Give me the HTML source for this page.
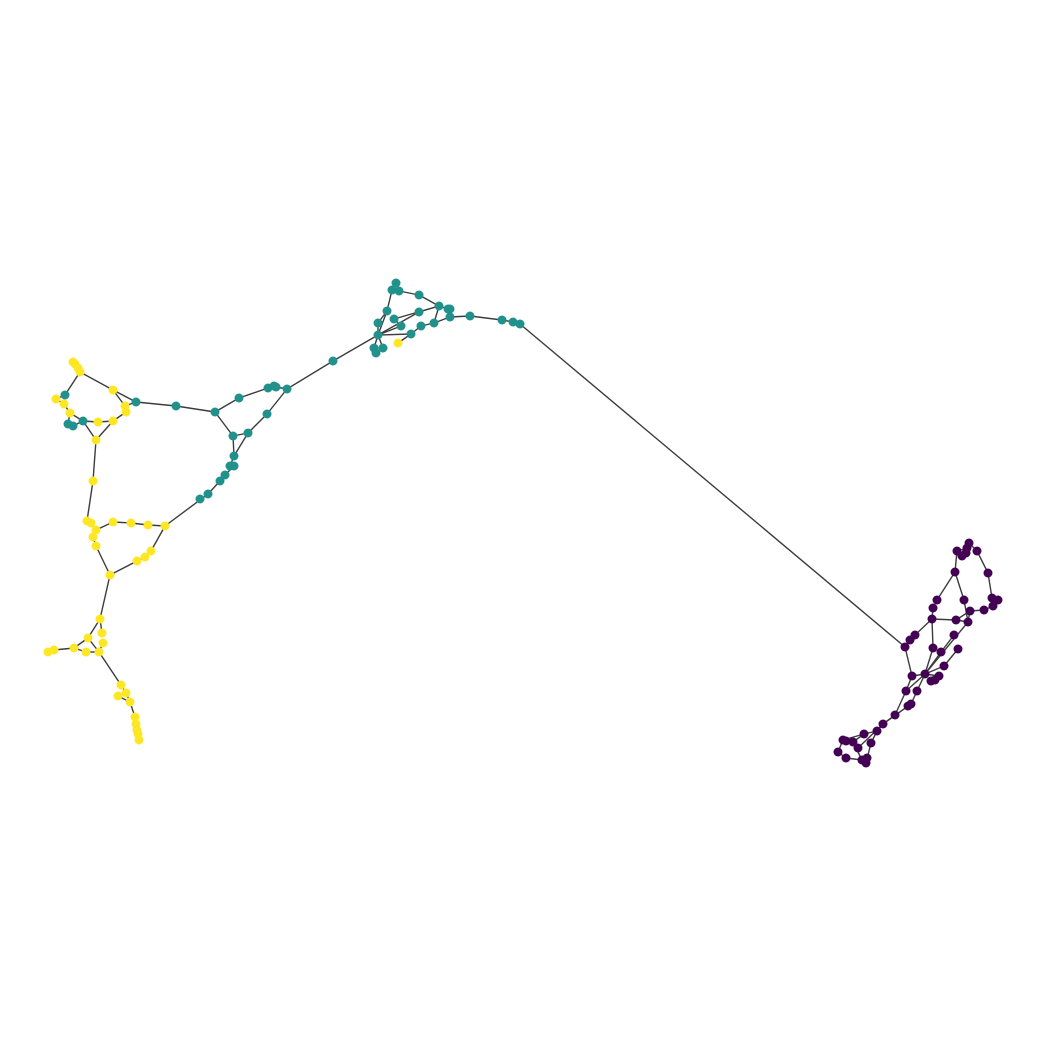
<!DOCTYPE html>
<html><head><meta charset="utf-8"><style>
html,body{margin:0;padding:0;background:#fff;}
svg{display:block;}
</style></head><body>
<svg id="chart" width="1046" height="1046" viewBox="0 0 1046 1046" xmlns="http://www.w3.org/2000/svg">
<rect width="1046" height="1046" fill="#fff"/>
<g id="edges"></g>
<g id="nodes"></g>
</svg>
<script>
const nodeIds = [
'Y1a','Y1b','Y1c','Y1d','Y2','Y3a','Y3b','Y4','Y5','Y6','Y7a','Y7b','Y8','Y9','Y10a','Y10b','Y11','Y12a','Y12b',
'Y13a','Y13b','Y13c','Y13d','Y14a','Y14b','Y14c','Y15','Y16','Y17','Y18a','Y18b','Y19','Y20','Y21','Y22a','Y22b',
'Y23','Y24a','Y24b','Y25','Y26a','Y26b','Y26c','Y26d','Y26e',
'T1','T2a','T2b','T3','T4','T5','T6','T7','T8a','T8b','T8c','T9','T10','T11','T12','T13','T14a','T14b','T15a','T15b','T16a','T16b','T17',
'A1','A2','B','C','D','E1','E2','F','G','H','I1','I2','J','K','L','M','N','O','P','Q','R','S','U1','U2','U3',
'p1a','p1b','p2a','p2b','p2c','p3','p4','p5','p6a','p6b','p6c','p7','p8','p9','p10','p11','p12a','p12b','p13','p14','p15','p16a','p16b','p17','p18','p19','p20','p21','p22','p23a','p23b','p23c','p24','p25','p26a','p26b','p27','p28','p29','p30','p31','p32a','p32b','p33a','p33b','p34','p35','p36a','p36b','p36c'
];
const nodeX = [
73,75,78,80,113,125,126,113,98,96,56,64,70,93,87,91,96,93,96,
113,131,148,165,151,145,137,110,100,88,102,103,99,86,74,48,54,
121,126,118,130,135,136,137,138,139,
65,68,73,83,136,176,215,239,268,274,276,287,267,248,233,234,230,234,225,220,208,200,333,
396,392,399,419,439,448,450,450,470,502,513,520,387,419,394,378,401,421,434,411,378,398,374,376,383,
969,967,957,962,966,977,955,988,992,998,993,984,964,970,968,956,937,933,932,954,958,915,910,905,933,941,944,925,912,939,935,931,906,917,911,908,895,883,877,864,871,843,846,853,858,838,846,862,867,866
];
const nodeY = [
362,364,368,372,390,406,412,421,422,440,399,404,413,481,521,523,530,537,546,
522,523,525,526,551,557,561,575,619,638,633,643,652,652,648,652,650,
685,693,696,702,717,724,730,734,740,
395,424,426,421,402,406,412,398,388,386,387,389,414,433,436,456,466,466,475,481,494,499,361,
283,290,291,295,306,309,309,317,316,320,322,324,311,312,319,323,326,326,323,334,335,343,348,353,348,
543,548,551,556,553,551,572,573,598,600,606,610,600,611,622,620,600,608,619,635,649,635,640,647,648,652,666,674,676,676,680,681,691,691,704,706,715,724,731,734,743,740,741,742,748,752,758,760,758,763
];
const yellowIds = ['S'];
const edgeSource = ['Y1d','Y1d','Y2','Y2','Y3a','Y3b','Y4','Y4','Y5','T3','T3','T1','Y7a','Y7b','Y8','T2b','Y6','Y9','Y10b','Y11','Y13a','Y13b','Y13c','Y13d','T16a','T15a','T14a','T13','T12','T12','T11','T11','T4','T5','T6','T7','T8c','T9','T9','Y13d','Y14a','Y14b','Y14c','Y11','Y12a','Y12b','Y15','Y16','Y16','Y17','Y17','Y21','Y20','Y21','Y22a','Y19','Y19','Y23','Y24a','Y24b','Y25','Y26a','Y26b','Y26c','Y26d',
'T17','R','J','A2','A1','B','C','D','D','F','G','H','I1','R','K','R','R','Q','O','P','N','L','R','M','U1','U3','S','U2','E1',
'I2','p17','p16b','p16a','p13','p13','p11','p13','p12a','p4','p2a','p2b','p1a','p3','p5','p6a','p6c','p7','p4','p8','p10','p9','p10','p14','p15','p17','p22','p18','p19','p20','p21','p21','p22','p21','p25','p24','p26a','p27','p28','p29','p30','p32a','p29','p31','p32a','p34','p35','p33a','p28','p36a','p36b'];
const edgeTarget = ['T1','Y2','T4','Y3a','T4','Y4','Y5','Y6','T3','Y6','Y8','Y7a','Y7b','Y8','T2a','T3','Y9','Y10a','Y11','Y13a','Y13b','Y13c','Y13d','T16a','T15b','T14b','T13','T12','T6','T11','T10','T13','T5','T6','T7','T8a','T9','T10','T17','Y14a','Y14b','Y14c','Y15','Y12a','Y12b','Y15','Y16','Y17','Y18a','Y21','Y19','Y20','Y19','Y22b','Y22b','Y18b','Y23','Y24a','Y25','Y25','Y26a','Y26b','Y26c','Y26d','Y26e',
'R','J','A2','A1','B','C','D','E1','P','G','H','I1','I2','K','D','N','Q','O','P','F','L','D','M','J','R','R','Q','U1','F',
'p17','p16b','p16a','p13','p12b','p11','p10','p18','p4','p2a','p1b','p1a','p3','p5','p6a','p6c','p7','p9','p8','p10','p9','p11','p21','p19','p20','p22','p21','p21','p21','p21','p23a','p24','p24','p25','p26a','p27','p28','p28','p29','p30','p33a','p30','p31','p36c','p34','p35','p36a','p36a','p33b','p36b','p36c'];
const palette = ['#440154','#21918c','#fde725'];
function groupOf(id){
  if(id[0]==='Y' || yellowIds.indexOf(id)>=0) return 2;
  if(id[0]==='p') return 0;
  return 1;
}
const NS='http://www.w3.org/2000/svg';
const idx = {}; nodeIds.forEach((id,i)=>idx[id]=i);
const eg=document.getElementById('edges'), ng=document.getElementById('nodes');
for(let k=0;k<edgeSource.length;k++){
  const a=idx[edgeSource[k]], b=idx[edgeTarget[k]];
  if(a===undefined||b===undefined) continue;
  const l=document.createElementNS(NS,'line');
  l.setAttribute('x1',nodeX[a]);l.setAttribute('y1',nodeY[a]);
  l.setAttribute('x2',nodeX[b]);l.setAttribute('y2',nodeY[b]);
  l.setAttribute('stroke','#3c3c3c');l.setAttribute('stroke-width','1.4');
  
  
  eg.appendChild(l);
}
for(let i=0;i<nodeIds.length;i++){
  const c=document.createElementNS(NS,'circle');
  c.setAttribute('cx',nodeX[i]);c.setAttribute('cy',nodeY[i]);c.setAttribute('r','4.5');
  c.setAttribute('fill',palette[groupOf(nodeIds[i])]);
  
  
  ng.appendChild(c);
}
</script>
</body></html>
